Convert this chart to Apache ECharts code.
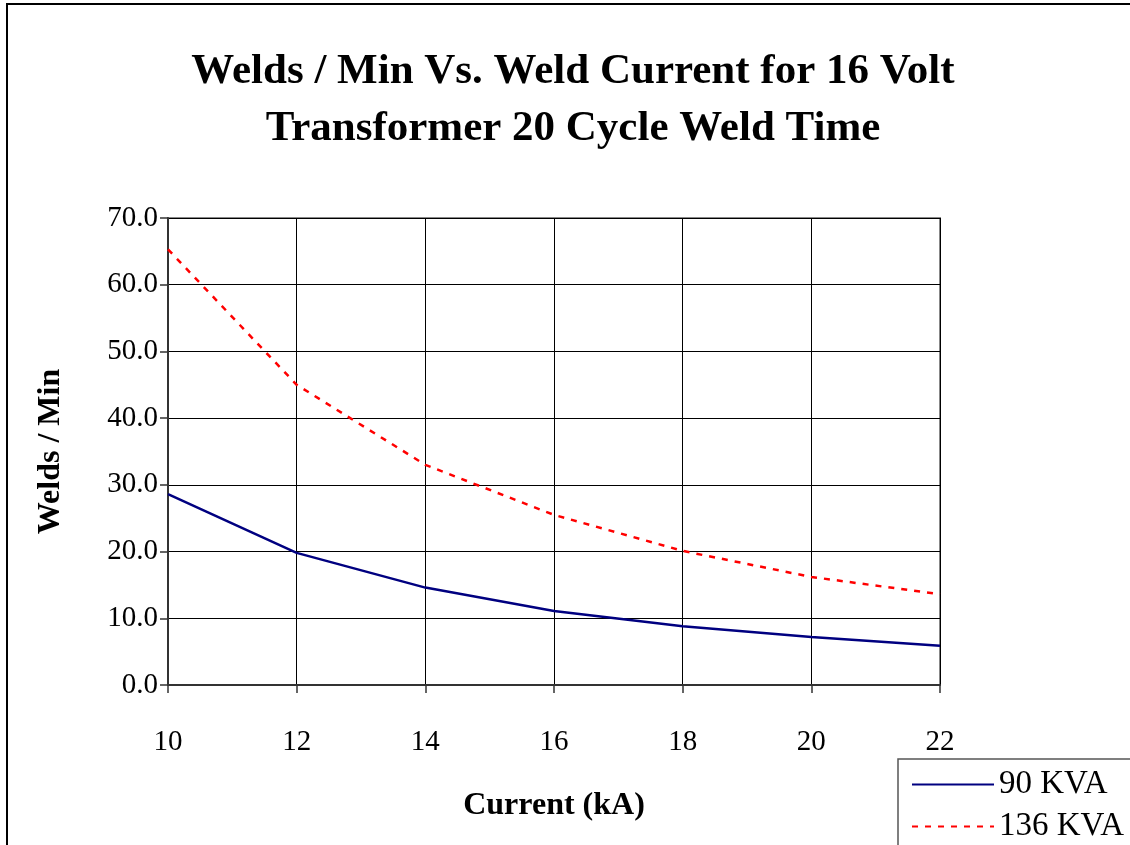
<!DOCTYPE html>
<html>
<head>
<meta charset="utf-8">
<script src="https://cdn.jsdelivr.net/npm/echarts@6/dist/echarts.min.js"></script>
<style>
  html, body { margin: 0; padding: 0; background: #fff; }
  #chart { width: 1130px; height: 845px; }
</style>
</head>
<body>
<div id="chart"></div>
<script>
// current in kA
const current = [10, 12, 14, 16, 18, 20, 22]
// welds per minute
const kva90 = [28.6, 19.8, 14.6, 11.1, 8.8, 7.2, 5.9]
const kva136 = [65.3, 45.0, 33.0, 25.5, 20.1, 16.2, 13.6]

const serif = 'Liberation Serif'

const toPairs = (xs, ys) => xs.map((x, i) => [x, ys[i]])

let chart = echarts.init(document.getElementById('chart'))
let option = {
  backgroundColor: '#fff',
  animation: false,
  graphic: [
    {
      // outer frame of the whole chart
      type: 'rect',
      shape: { x: 7, y: 4, width: 1300, height: 1000 },
      style: { fill: 'none', stroke: '#000', lineWidth: 2 },
      z: -10
    },
    {
      // legend box
      type: 'rect',
      shape: { x: 898, y: 759, width: 400, height: 200 },
      style: { fill: '#fff', stroke: '#555', lineWidth: 1.5 },
      z: -5
    }
  ],
  title: {
    text: 'Welds / Min Vs. Weld Current for 16 Volt\nTransformer 20 Cycle Weld Time',
    left: 568,
    top: 38,
    textAlign: 'center',
    textStyle: {
      fontFamily: serif,
      fontWeight: 'bold',
      fontSize: 43,
      lineHeight: 57,
      color: '#000'
    }
  },
  legend: {
    orient: 'vertical',
    left: 898,
    top: 768,
    padding: [0, 0, 0, 13],
    itemGap: 9,
    itemWidth: 82,
    itemHeight: 14,
    itemStyle: { opacity: 0 },
    textStyle: { fontFamily: serif, fontSize: 33, color: '#000', lineHeight: 33 },
    data: ['90 KVA', '136 KVA']
  },
  grid: {
    left: 168,
    top: 218,
    right: 190,
    bottom: 160,
    show: true,
    borderColor: '#888',
    borderWidth: 2
  },
  xAxis: {
    type: 'value',
    min: 10,
    max: 22,
    interval: 2,
    name: 'Current (kA)',
    nameLocation: 'middle',
    nameGap: 105,
    nameTextStyle: { fontFamily: serif, fontWeight: 'bold', fontSize: 32, color: '#000' },
    axisLine: { lineStyle: { color: '#333', width: 2 } },
    axisTick: { show: true, length: 8, lineStyle: { color: '#333', width: 1.5 } },
    axisLabel: { margin: 43, fontFamily: serif, fontSize: 29, color: '#000' },
    splitLine: { show: true, lineStyle: { color: '#000', width: 1 } }
  },
  yAxis: {
    type: 'value',
    min: 0,
    max: 70,
    interval: 10,
    name: 'Welds / Min',
    nameLocation: 'middle',
    nameGap: 101,
    nameTextStyle: { fontFamily: serif, fontWeight: 'bold', fontSize: 32, color: '#000' },
    axisLine: { show: true, lineStyle: { color: '#333', width: 2 } },
    axisTick: { show: true, length: 8, lineStyle: { color: '#333', width: 1.5 } },
    axisLabel: {
      margin: 10,
      fontFamily: serif,
      fontSize: 29,
      color: '#000',
      formatter: (v) => v.toFixed(1)
    },
    splitLine: { show: true, lineStyle: { color: '#000', width: 1 } }
  },
  series: [
    {
      name: '90 KVA',
      type: 'line',
      data: toPairs(current, kva90),
      symbol: 'none',
      color: '#000080',
      lineStyle: { color: '#000080', width: 2.5 }
    },
    {
      name: '136 KVA',
      type: 'line',
      data: toPairs(current, kva136),
      symbol: 'none',
      color: '#ff0000',
      lineStyle: { color: '#ff0000', width: 2.5, type: [6, 7] }
    }
  ]
}
chart.setOption(option)
</script>
</body>
</html>
